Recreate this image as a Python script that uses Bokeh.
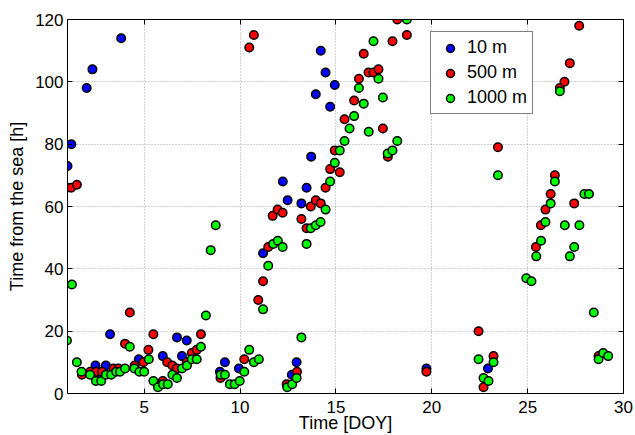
from bokeh.plotting import figure
from bokeh.models import Range1d, LinearAxis, FixedTicker, Legend, LegendItem
from bokeh.embed import file_html
from bokeh.resources import INLINE

# ---- data ----
blue_x = [1.0, 1.2, 2.0, 2.3, 3.8, 3.22, 2.46, 3.0, 2.75, 4.72, 5.97, 6.71, 6.97, 7.22,
          8.95, 9.21, 9.94, 11.2, 12.23, 12.48, 13.2, 13.47, 12.95, 12.7, 13.71, 13.95,
          14.21, 14.46, 14.7, 14.94, 19.72, 22.93]
blue_y = [73, 80, 98, 104, 114, 19, 9, 9, 6, 11, 12, 18, 12, 17,
          7, 10, 8, 45, 68, 62, 61, 66, 10, 6, 76, 96,
          110, 103, 92, 99, 8, 8]

red_x = [0.97, 1.19, 1.49, 1.75, 2.18, 2.5, 2.8, 3.4, 3.66, 4.0, 4.25, 4.5, 4.96, 5.22,
         5.48, 5.97, 6.2, 6.47, 6.7, 7.22, 7.48, 7.74, 7.96, 8.98, 10.22, 10.95, 12.43,
         12.97, 10.48, 10.72, 11.2, 11.47, 11.7, 11.96, 12.22, 13.2, 13.47, 13.69, 13.95,
         14.21, 14.46, 14.7, 14.94, 15.2, 15.45, 15.95, 16.2, 16.45, 16.7, 16.96, 17.22,
         17.45, 17.71, 17.95, 18.2, 18.7, 19.72, 22.44, 22.7, 23.22, 23.45, 25.43, 25.69,
         25.93, 26.2, 26.42, 26.68, 26.92, 27.2, 27.43, 27.69, 28.7]
red_y = [66, 66, 67, 6, 7, 7, 7, 8, 8, 16, 26, 9, 10, 14,
         19, 4, 10, 9, 8, 10, 13, 14, 19, 5, 11, 30, 3,
         7, 111, 115, 36, 47, 57, 59, 58, 56, 53, 60, 62,
         61, 66, 72, 78, 71, 88, 94, 101, 109, 103, 103, 104,
         85, 76, 113, 120, 115, 7, 20, 2, 12, 79, 47, 54,
         59, 64, 70, 98, 100, 106, 61, 118, 12]

green_x = [0.97, 1.23, 1.49, 1.73, 2.18, 2.48, 2.76, 3.0, 3.28, 3.54, 3.74, 4.0, 4.25, 4.49,
           4.75, 5.0, 5.24, 5.48, 5.72, 5.98, 6.23, 6.47, 6.71, 6.97, 7.23, 7.48, 7.74, 7.96,
           8.22, 8.47, 8.73, 8.99, 9.21, 9.47, 9.72, 9.98, 10.22, 10.48, 10.72, 10.98, 11.2,
           11.47, 11.73, 11.97, 12.22, 12.46, 12.72, 12.95, 13.2, 13.47, 13.69, 13.95, 14.2,
           14.46, 14.7, 14.94, 15.2, 15.45, 15.71, 15.95, 16.2, 16.45, 16.71, 16.96, 17.22,
           17.45, 17.7, 17.95, 18.2, 18.7, 22.44, 22.7, 22.96, 23.22, 23.45, 24.93, 25.2,
           25.45, 25.7, 25.93, 26.2, 26.42, 26.68, 26.94, 27.2, 27.43, 27.7, 27.96, 28.2,
           28.45, 28.7, 28.94, 29.2]
green_y = [17, 35, 10, 7, 6, 4, 4, 6, 6, 7, 7, 8, 15, 8,
           7, 7, 11, 4, 2, 3, 3, 6, 5, 8, 9, 11, 11, 15,
           25, 46, 54, 6, 6, 3, 3, 4, 7, 14, 10, 11, 27,
           41, 48, 49, 47, 2, 3, 5, 18, 48, 53, 54, 55,
           59, 68, 74, 78, 81, 85, 89, 98, 93, 84, 113, 101,
           95, 77, 78, 81, 120, 11, 5, 4, 10, 70, 37, 36,
           44, 49, 55, 61, 68, 97, 54, 44, 47, 54, 64, 64,
           26, 11, 13, 12]

x_ticks = [5, 10, 15, 20, 25, 30]
y_ticks = [0, 20, 40, 60, 80, 100, 120]
series_labels = ["10 m", "500 m", "1000 m"]
x_label = "Time [DOY]"
y_label = "Time from the sea [h]"

FONT = "Liberation Sans"

p = figure(width=635, height=435, output_backend="svg", toolbar_location=None,
           x_range=Range1d(1, 30), y_range=Range1d(0, 120),
           min_border_left=67, min_border_right=12, min_border_top=19, min_border_bottom=41)

p.background_fill_color = "white"
p.border_fill_color = "white"
p.outline_line_color = "black"
p.outline_line_width = 1

for ax, tk in ((p.xaxis[0], x_ticks), (p.yaxis[0], y_ticks)):
    ax.ticker = FixedTicker(ticks=tk)
    ax.axis_line_color = "black"
    ax.major_tick_line_color = "black"
    ax.major_tick_in = 5
    ax.major_tick_out = 0
    ax.minor_tick_line_color = None
    ax.major_label_text_font = FONT
    ax.major_label_text_font_size = "17px"
    ax.major_label_text_color = "black"
    ax.axis_label_text_font = FONT
    ax.axis_label_text_font_size = "18px"
    ax.axis_label_text_font_style = "normal"
    ax.axis_label_text_color = "black"

p.xaxis.major_label_standoff = 7
p.yaxis.major_label_standoff = 4
p.xaxis.axis_label = x_label
p.xaxis.axis_label_standoff = -3
p.yaxis.axis_label = y_label
p.yaxis.axis_label_standoff = 5

# box axes (top / right) with inward ticks only, no labels
top = LinearAxis(ticker=FixedTicker(ticks=x_ticks), major_label_text_font_size="1px",
                 major_label_text_color=None,
                 major_label_standoff=0, major_tick_in=5, major_tick_out=0,
                 minor_tick_line_color=None, axis_line_color="black", major_tick_line_color="black")
right = LinearAxis(ticker=FixedTicker(ticks=y_ticks), major_label_text_font_size="1px",
                   major_label_text_color=None,
                   major_label_standoff=0, major_tick_in=5, major_tick_out=0,
                   minor_tick_line_color=None, axis_line_color="black", major_tick_line_color="black")
p.add_layout(top, "above")
p.add_layout(right, "right")

p.xgrid.ticker = FixedTicker(ticks=x_ticks)
p.ygrid.ticker = FixedTicker(ticks=y_ticks)
for g in (p.xgrid[0], p.ygrid[0]):
    g.grid_line_color = "#a0a0a0"
    g.grid_line_dash = "1 2"
    g.grid_line_width = 1

rb = p.scatter(blue_x, blue_y, marker="circle", size=8.5, fill_color="#0000ff",
               line_color="black", line_width=1.5)
rr = p.scatter(red_x, red_y, marker="circle", size=8.5, fill_color="#ff0000",
               line_color="black", line_width=1.5)
rg = p.scatter(green_x, green_y, marker="circle", size=8.5, fill_color="#00ff00",
               line_color="black", line_width=1.5)

legend = Legend(items=[LegendItem(label=series_labels[0], renderers=[rb]),
                       LegendItem(label=series_labels[1], renderers=[rr]),
                       LegendItem(label=series_labels[2], renderers=[rg])],
                location=(363, 279), orientation="vertical",
                label_text_font=FONT, label_text_font_size="18px", label_text_color="black",
                border_line_color="black", border_line_width=1,
                background_fill_color="white", background_fill_alpha=1,
                glyph_width=28, glyph_height=20, label_height=20, label_standoff=3,
                spacing=4, padding=5, margin=0)
p.add_layout(legend)

open("out.html", "w").write(file_html(p, INLINE))
